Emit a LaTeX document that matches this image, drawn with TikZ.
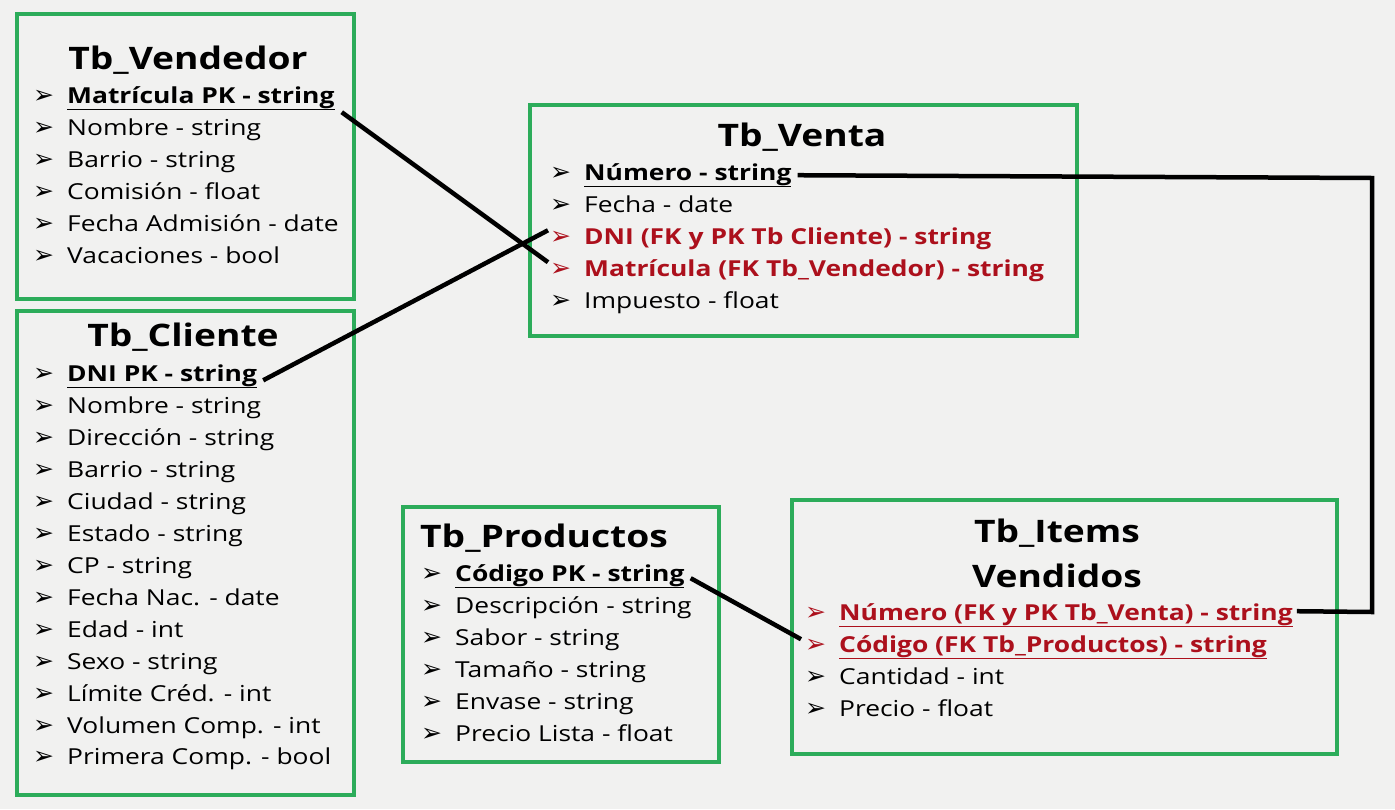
\documentclass[tikz,border=0pt]{standalone}
\usepackage{fontspec}
\setmainfont{Open Sans}[FakeStretch=1.2]
\newfontfamily\dejavu{DejaVu Sans}
\definecolor{bg}{RGB}{241,241,240}
\definecolor{boxgreen}{RGB}{44,172,90}
\definecolor{fkred}{RGB}{172,16,28}
\newcommand{\bul}{{\dejavu\fontsize{25}{26}\selectfont\char"27A2}}
\newcommand{\rowtxt}[1]{\makebox[34pt][l]{\bul}#1}
\begin{document}
\begin{tikzpicture}[x=1pt,y=-1pt,
  tbox/.style={draw=boxgreen, line width=4pt, anchor=north west, inner sep=0pt},
  row/.style={anchor=base west, inner sep=0pt, font=\fontsize{22}{26}\selectfont},
  fkrow/.style={row, text=fkred},
  ttl/.style={inner sep=0pt, anchor=base, font=\fontsize{31}{36}\selectfont\bfseries},
  conn/.style={draw=black, line width=4.5pt}]
\useasboundingbox[fill=bg] (0,0) rectangle (1395,809);
% boxes
\node[tbox, minimum width=337pt, minimum height=285pt] (bven) at (15,12) {};
\node[tbox, minimum width=337pt, minimum height=484pt] (bcli) at (15,309) {};
\node[tbox, minimum width=547pt, minimum height=231pt] (bvta) at (528,103) {};
\node[tbox, minimum width=316pt, minimum height=255pt] (bpro) at (401,505) {};
\node[tbox, minimum width=545pt, minimum height=254pt] (bitm) at (790,498) {};
% Tb_Vendedor
\node[ttl] (tven) at (188,69) {Tb\_Vendedor};
\node[row] (v1) at (33,103) {\rowtxt{\textbf{\underline{Matrícula PK - string}}}};
\node[row] (v2) at (33,135) {\rowtxt{Nombre - string}};
\node[row] (v3) at (33,167) {\rowtxt{Barrio - string}};
\node[row] (v4) at (33,199) {\rowtxt{Comisión - float}};
\node[row] (v5) at (33,231) {\rowtxt{Fecha Admisión - date}};
\node[row] (v6) at (33,263) {\rowtxt{Vacaciones - bool}};
% Tb_Cliente
\node[ttl] (tcli) at (183,346) {Tb\_Cliente};
\node[row] (c1) at (33,381) {\rowtxt{\textbf{\underline{DNI PK - string}}}};
\node[row] (c2) at (33,413) {\rowtxt{Nombre - string}};
\node[row] (c3) at (33,445) {\rowtxt{Dirección - string}};
\node[row] (c4) at (33,477) {\rowtxt{Barrio - string}};
\node[row] (c5) at (33,509) {\rowtxt{Ciudad - string}};
\node[row] (c6) at (33,541) {\rowtxt{Estado - string}};
\node[row] (c7) at (33,573) {\rowtxt{CP - string}};
\node[row] (c8) at (33,605) {\rowtxt{Fecha Nac. - date}};
\node[row] (c9) at (33,637) {\rowtxt{Edad - int}};
\node[row] (c10) at (33,669) {\rowtxt{Sexo - string}};
\node[row] (c11) at (33,701) {\rowtxt{Límite Créd. - int}};
\node[row] (c12) at (33,733) {\rowtxt{Volumen Comp. - int}};
\node[row] (c13) at (33,764) {\rowtxt{Primera Comp. - bool}};
% Tb_Venta
\node[ttl] (tvta) at (802,146) {Tb\_Venta};
\node[row] (t1) at (550,180) {\rowtxt{\textbf{\underline{Número - string}}}};
\node[row] (t2) at (550,212) {\rowtxt{Fecha - date}};
\node[fkrow] (t3) at (550,244) {\rowtxt{\textbf{DNI (FK y PK Tb Cliente) - string}}};
\node[fkrow] (t4) at (550,276) {\rowtxt{\textbf{Matrícula (FK Tb\_Vendedor) - string}}};
\node[row] (t5) at (550,308) {\rowtxt{Impuesto - float}};
% Tb_Productos
\node[ttl, anchor=base west] (tpro) at (420,547) {Tb\_Productos};
\node[row] (p1) at (421,581) {\rowtxt{\textbf{\underline{Código PK - string}}}};
\node[row] (p2) at (421,613) {\rowtxt{Descripción - string}};
\node[row] (p3) at (421,645) {\rowtxt{Sabor - string}};
\node[row] (p4) at (421,677) {\rowtxt{Tamaño - string}};
\node[row] (p5) at (421,709) {\rowtxt{Envase - string}};
\node[row] (p6) at (421,741) {\rowtxt{Precio Lista - float}};
% Tb_Items Vendidos
\node[ttl] (titm1) at (1057,542) {Tb\_Items};
\node[ttl] (titm2) at (1057,587) {Vendidos};
\node[fkrow] (i1) at (805,620) {\rowtxt{\textbf{\underline{Número (FK y PK Tb\_Venta) - string}}}};
\node[fkrow] (i2) at (805,652) {\rowtxt{\textbf{\underline{Código (FK Tb\_Productos) - string}}}};
\node[row] (i3) at (805,684) {\rowtxt{Cantidad - int}};
\node[row] (i4) at (805,716) {\rowtxt{Precio - float}};
% connectors
\coordinate (rt) at (1372,178);
\coordinate (rb) at (1372,612);
\draw[conn] ([shift={(7,14)}]v1.east) -- ([shift={(-2,-8)}]t4.west);
\draw[conn] ([shift={(6,4)}]c1.east) -- ([shift={(-2,-8)}]t3.west);
\draw[conn, line join=miter] ([shift={(6,0)}]t1.east) -- (rt) -- (rb) -- ([shift={(4,-4)}]i1.east);
\draw[conn] ([shift={(6,2)}]p1.east) -- ([shift={(-4,-8)}]i2.west);
\end{tikzpicture}
\end{document}
